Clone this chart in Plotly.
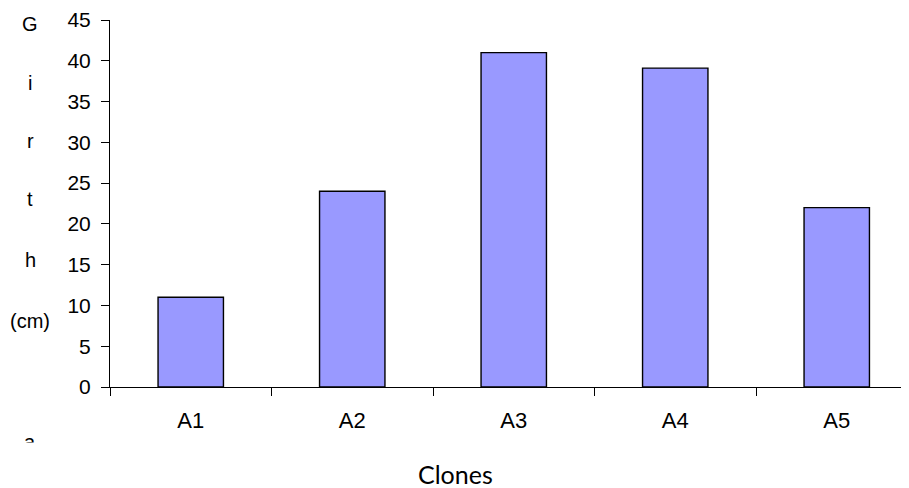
import plotly.graph_objects as go

categories = ["A1", "A2", "A3", "A4", "A5"]
girth_cm = [11, 24, 41, 39.1, 22]
y_ticks = [0, 5, 10, 15, 20, 25, 30, 35, 40, 45]
title_letters = ["G", "i", "r", "t", "h", "(cm)", "a"]
letter_pix_y = [22, 81, 139, 198, 259, 320, 442]
x_title = "Clones"

# the page body adds an 8px offset; sizes below compensate for it
OFF = 8
W, H = 909 - OFF, 488 - OFF
AXIS_X, TOP_Y, ZERO_Y = 110, 17.7, 386.7
ML = AXIS_X - OFF
MT = round(TOP_Y - OFF)
plot_h = ZERO_Y - TOP_Y
MB = H - MT - round(plot_h)
plot_w = W - ML


def px(sx):
    return (sx - AXIS_X) / plot_w


def py(sy):
    return (ZERO_Y - sy) / plot_h


fig = go.Figure()
fig.add_trace(go.Bar(
    x=categories, y=girth_cm, width=0.405,
    marker=dict(color="#9999FF", line=dict(color="#000000", width=1.4)),
))

annotations = []
for t, y in zip(title_letters, letter_pix_y):
    annotations.append(dict(
        text=t, xref="paper", yref="paper",
        x=px(30), y=py(y),
        xanchor="center", yanchor="middle", showarrow=False,
        font=dict(family="Liberation Sans", size=20, color="#000"),
    ))
# white cover clipping the lower part of the last letter
annotations.append(dict(
    text=" ", xref="paper", yref="paper",
    x=px(30), y=py(442),
    xanchor="center", yanchor="top", showarrow=False,
    width=40, height=40, bgcolor="#ffffff",
))
annotations.append(dict(
    text=x_title, xref="paper", yref="paper",
    x=px(455), y=py(474),
    xanchor="center", yanchor="middle", showarrow=False,
    font=dict(family="Lato", size=25, color="#000"),
))

fig.update_layout(
    width=W, height=H,
    margin=dict(l=ML, r=0, t=MT, b=MB, pad=0),
    paper_bgcolor="#ffffff", plot_bgcolor="#ffffff",
    showlegend=False,
    annotations=annotations,
    xaxis=dict(
        type="category", range=[-0.5, -0.5 + plot_w / 161.5],
        tickson="boundaries", ticks="outside", ticklen=8, tickwidth=1, tickcolor="#000",
        showline=True, linecolor="#000", linewidth=1,
        showgrid=False, zeroline=False, ticklabelstandoff=14,
        tickfont=dict(family="Liberation Sans", size=22, color="#000"),
    ),
    yaxis=dict(
        range=[0, 45], tickvals=y_ticks, ticks="outside", ticklen=8, tickwidth=1, tickcolor="#000",
        showline=True, linecolor="#000", linewidth=1,
        showgrid=False, zeroline=False, ticklabelstandoff=6,
        ticklabeloverflow="allow",
        tickfont=dict(family="Liberation Sans", size=21, color="#000"),
    ),
)

fig.write_html("out.html")
